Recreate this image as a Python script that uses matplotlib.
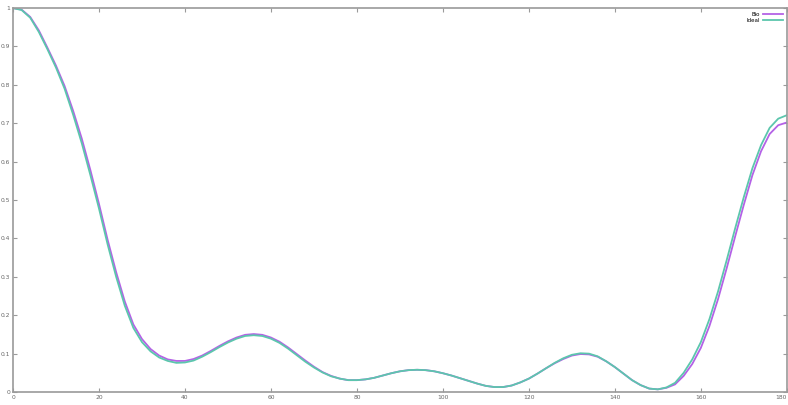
import matplotlib
matplotlib.use("Agg")
import matplotlib.pyplot as plt

# x positions (every 2 units) and the two response curves
x = list(range(0, 182, 2))

ideal = [
    1.000, 0.995, 0.975, 0.938, 0.893, 0.845, 0.790, 0.722, 0.648, 0.565,
    0.478, 0.385, 0.300, 0.225, 0.167, 0.130, 0.106, 0.090, 0.081, 0.076,
    0.077, 0.082, 0.092, 0.104, 0.117, 0.129, 0.139, 0.146, 0.148, 0.146,
    0.139, 0.128, 0.113, 0.096, 0.079, 0.064, 0.051, 0.041, 0.035, 0.031,
    0.031, 0.033, 0.037, 0.043, 0.049, 0.054, 0.057, 0.058, 0.057, 0.054,
    0.049, 0.043, 0.036, 0.029, 0.022, 0.016, 0.013, 0.013, 0.017, 0.025,
    0.035, 0.048, 0.062, 0.076, 0.088, 0.097, 0.101, 0.100, 0.093, 0.080,
    0.065, 0.048, 0.031, 0.018, 0.009, 0.007, 0.012, 0.024, 0.050, 0.085,
    0.130, 0.190, 0.262, 0.343, 0.427, 0.508, 0.583, 0.643, 0.688, 0.712,
    0.721,
]

bio = [
    1.000, 0.996, 0.977, 0.942, 0.897, 0.850, 0.797, 0.732, 0.660, 0.578,
    0.490, 0.397, 0.312, 0.236, 0.176, 0.138, 0.112, 0.095, 0.085, 0.081,
    0.081, 0.086, 0.095, 0.107, 0.120, 0.132, 0.142, 0.149, 0.151, 0.149,
    0.142, 0.131, 0.116, 0.099, 0.082, 0.066, 0.052, 0.042, 0.035, 0.031,
    0.031, 0.033, 0.037, 0.043, 0.049, 0.054, 0.057, 0.058, 0.057, 0.054,
    0.049, 0.043, 0.036, 0.029, 0.022, 0.016, 0.013, 0.013, 0.017, 0.025,
    0.035, 0.048, 0.062, 0.075, 0.086, 0.095, 0.099, 0.098, 0.092, 0.080,
    0.065, 0.048, 0.031, 0.018, 0.009, 0.007, 0.011, 0.020, 0.042, 0.073,
    0.115, 0.172, 0.242, 0.322, 0.406, 0.488, 0.565, 0.627, 0.672, 0.695,
    0.702,
]

x_ticks = list(range(0, 181, 20))
y_ticks = [i / 10 for i in range(11)]
y_labels = ["0", "0.1", "0.2", "0.3", "0.4", "0.5", "0.6", "0.7", "0.8", "0.9", "1"]

BIO_COLOR = "#b462e6"
IDEAL_COLOR = "#5cc6ad"
FRAME = "#9a9a9a"

fig = plt.figure(figsize=(7.88, 4.05), dpi=100)
ax = fig.add_axes([0.0165, 0.032, 0.982, 0.948])

ax.plot(x, bio, color=BIO_COLOR, lw=1.3, label="Bio",
        solid_joinstyle="round")
ax.plot(x, ideal, color=IDEAL_COLOR, lw=1.3, label="Ideal",
        solid_joinstyle="round")

ax.set_xlim(0, 180)
ax.set_ylim(0, 1)
ax.set_xticks(x_ticks)
ax.set_xticklabels([str(t) for t in x_ticks])
ax.set_yticks(y_ticks)
ax.set_yticklabels(y_labels)
# last x label sits at the right border; keep it inside the picture
ax.get_xticklabels()[-1].set_horizontalalignment("right")

for side in ax.spines.values():
    side.set_color(FRAME)
    side.set_linewidth(1.2)
ax.tick_params(direction="in", length=3, width=0.8, color=FRAME,
               top=True, right=True, labelsize=4.3, labelcolor="#666",
               pad=2)

ax.legend(loc="upper right", frameon=False, fontsize=4, markerfirst=False,
          handlelength=3.6, handletextpad=0.6, labelspacing=0.25,
          borderaxespad=0.3)

fig.savefig("out.png", dpi=100)
